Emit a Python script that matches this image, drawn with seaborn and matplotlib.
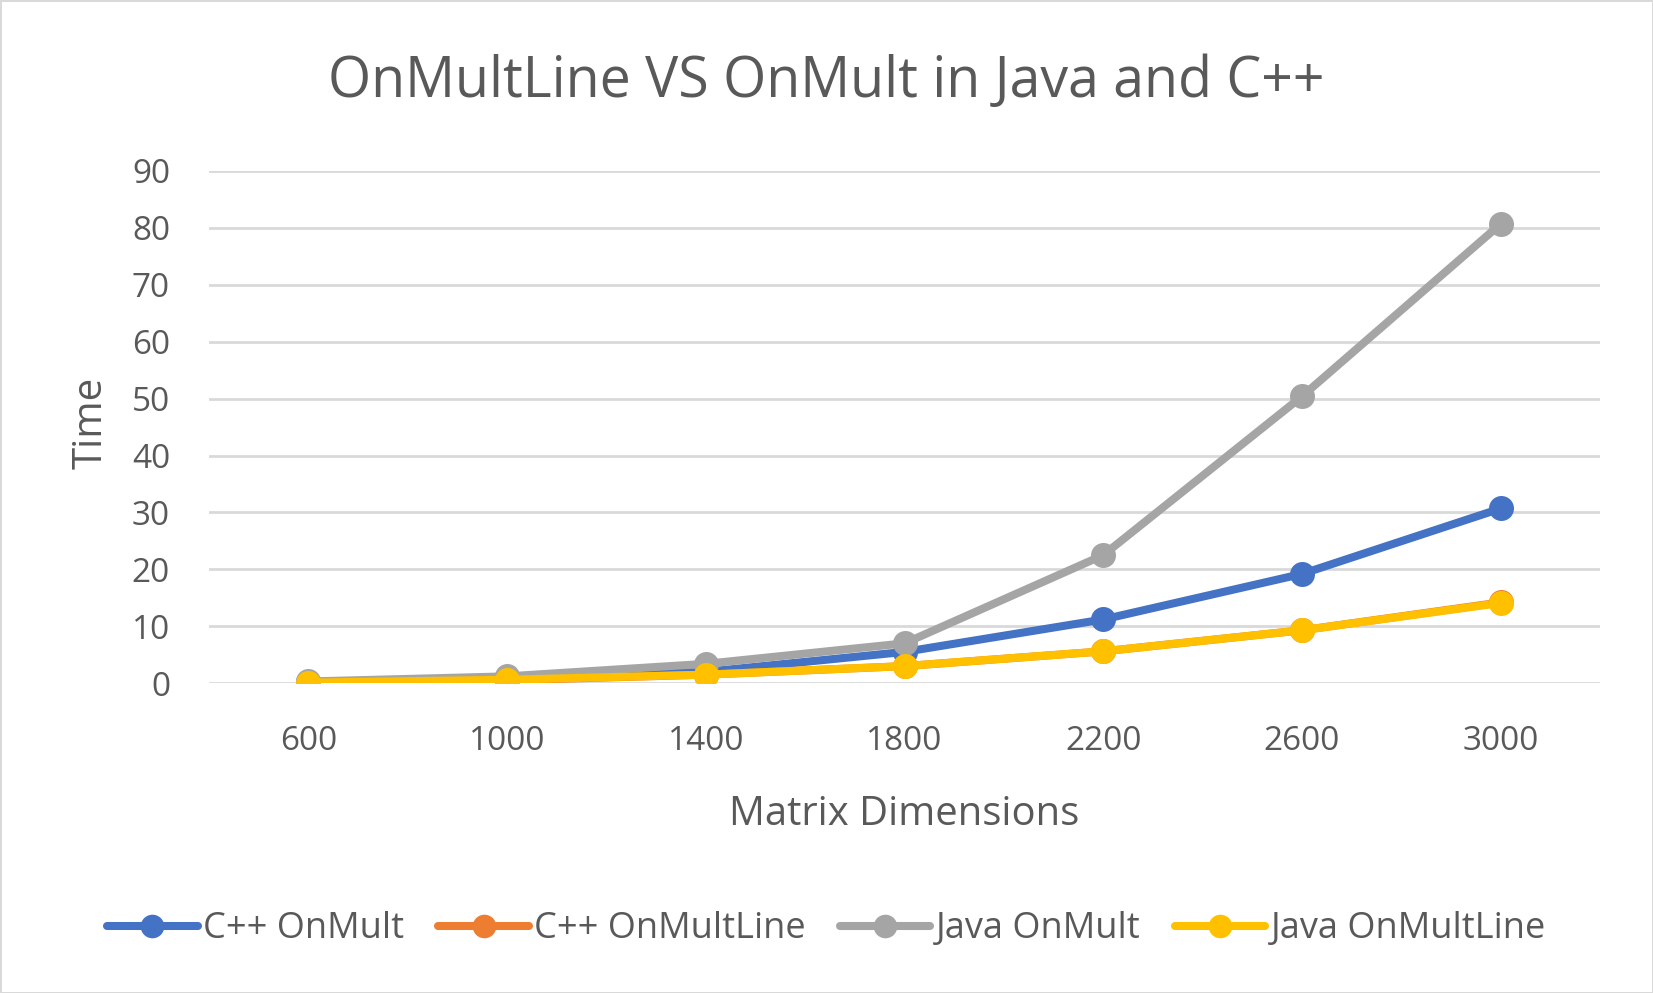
import numpy as np
import pandas as pd
import matplotlib
matplotlib.use("Agg")
import matplotlib.pyplot as plt
import seaborn as sns

# ---- data ----
dims = ["600", "1000", "1400", "1800", "2200", "2600", "3000"]
cpp_onmult = [0.2, 0.9, 2.0, 5.5, 11.2, 19.2, 30.7]
cpp_onmultline = [0.1, 0.5, 1.5, 3.0, 5.6, 9.3, 14.2]
java_onmult = [0.3, 1.2, 3.4, 7.0, 22.5, 50.4, 80.7]
java_onmultline = [0.1, 0.6, 1.5, 3.0, 5.6, 9.3, 14.1]

series = ["C++ OnMult", "C++ OnMultLine", "Java OnMult", "Java OnMultLine"]
colors = ["#4472C4", "#ED7D31", "#A5A5A5", "#FFC000"]

df = pd.DataFrame({
    "Matrix Dimensions": dims * 4,
    "Time": cpp_onmult + cpp_onmultline + java_onmult + java_onmultline,
    "Series": np.repeat(series, len(dims)),
})

sns.set_theme(style="white")
plt.rcParams["font.family"] = ["Open Sans", "DejaVu Sans"]
txt = "#595959"

fig = plt.figure(figsize=(16.53, 9.93), dpi=100)
fig.patch.set_edgecolor("#D9D9D9")
fig.patch.set_linewidth(2)
ax = fig.add_axes([0.1264, 0.312, 0.8416, 0.5158])

sns.lineplot(data=df, x="Matrix Dimensions", y="Time", hue="Series",
             palette=colors, marker="o", markersize=18, linewidth=5.8,
             markeredgewidth=0, sort=False, ax=ax, legend=False,
             solid_capstyle="round", solid_joinstyle="round")

ax.set_xlim(-0.5, 6.5)
ax.set_ylim(0, 90)
ax.set_yticks(range(0, 91, 10))
ax.yaxis.grid(True, color="#D9D9D9", linewidth=2)
ax.set_axisbelow(True)
for s in ax.spines.values():
    s.set_visible(False)
ax.tick_params(axis="both", length=0, labelsize=24, colors=txt)
ax.tick_params(axis="y", pad=28)
ax.tick_params(axis="x", pad=30)
ax.set_xlabel("Matrix Dimensions", fontsize=28.8, color=txt)
ax.set_ylabel("Time", fontsize=29, color=txt)
ax.xaxis.set_label_coords(0.5, -0.217)
ax.yaxis.set_label_coords(-0.070, 0.508)

fig.text(0.5, 0.902, "OnMultLine VS OnMult in Java and C++",
         ha="center", va="baseline", fontsize=40, color=txt)

handles = [plt.Line2D([], [], color=c, lw=5.8, marker="o", markersize=17,
                      markeredgewidth=0, solid_capstyle="round")
           for c in colors]
fig.legend(handles, series, loc="center", bbox_to_anchor=(0.5, 0.064),
           ncol=4, frameon=False, fontsize=26, labelcolor=txt,
           handlelength=2.5, handletextpad=0.15, columnspacing=0.95)

fig.savefig("out.png", dpi=100, edgecolor=fig.get_edgecolor())
